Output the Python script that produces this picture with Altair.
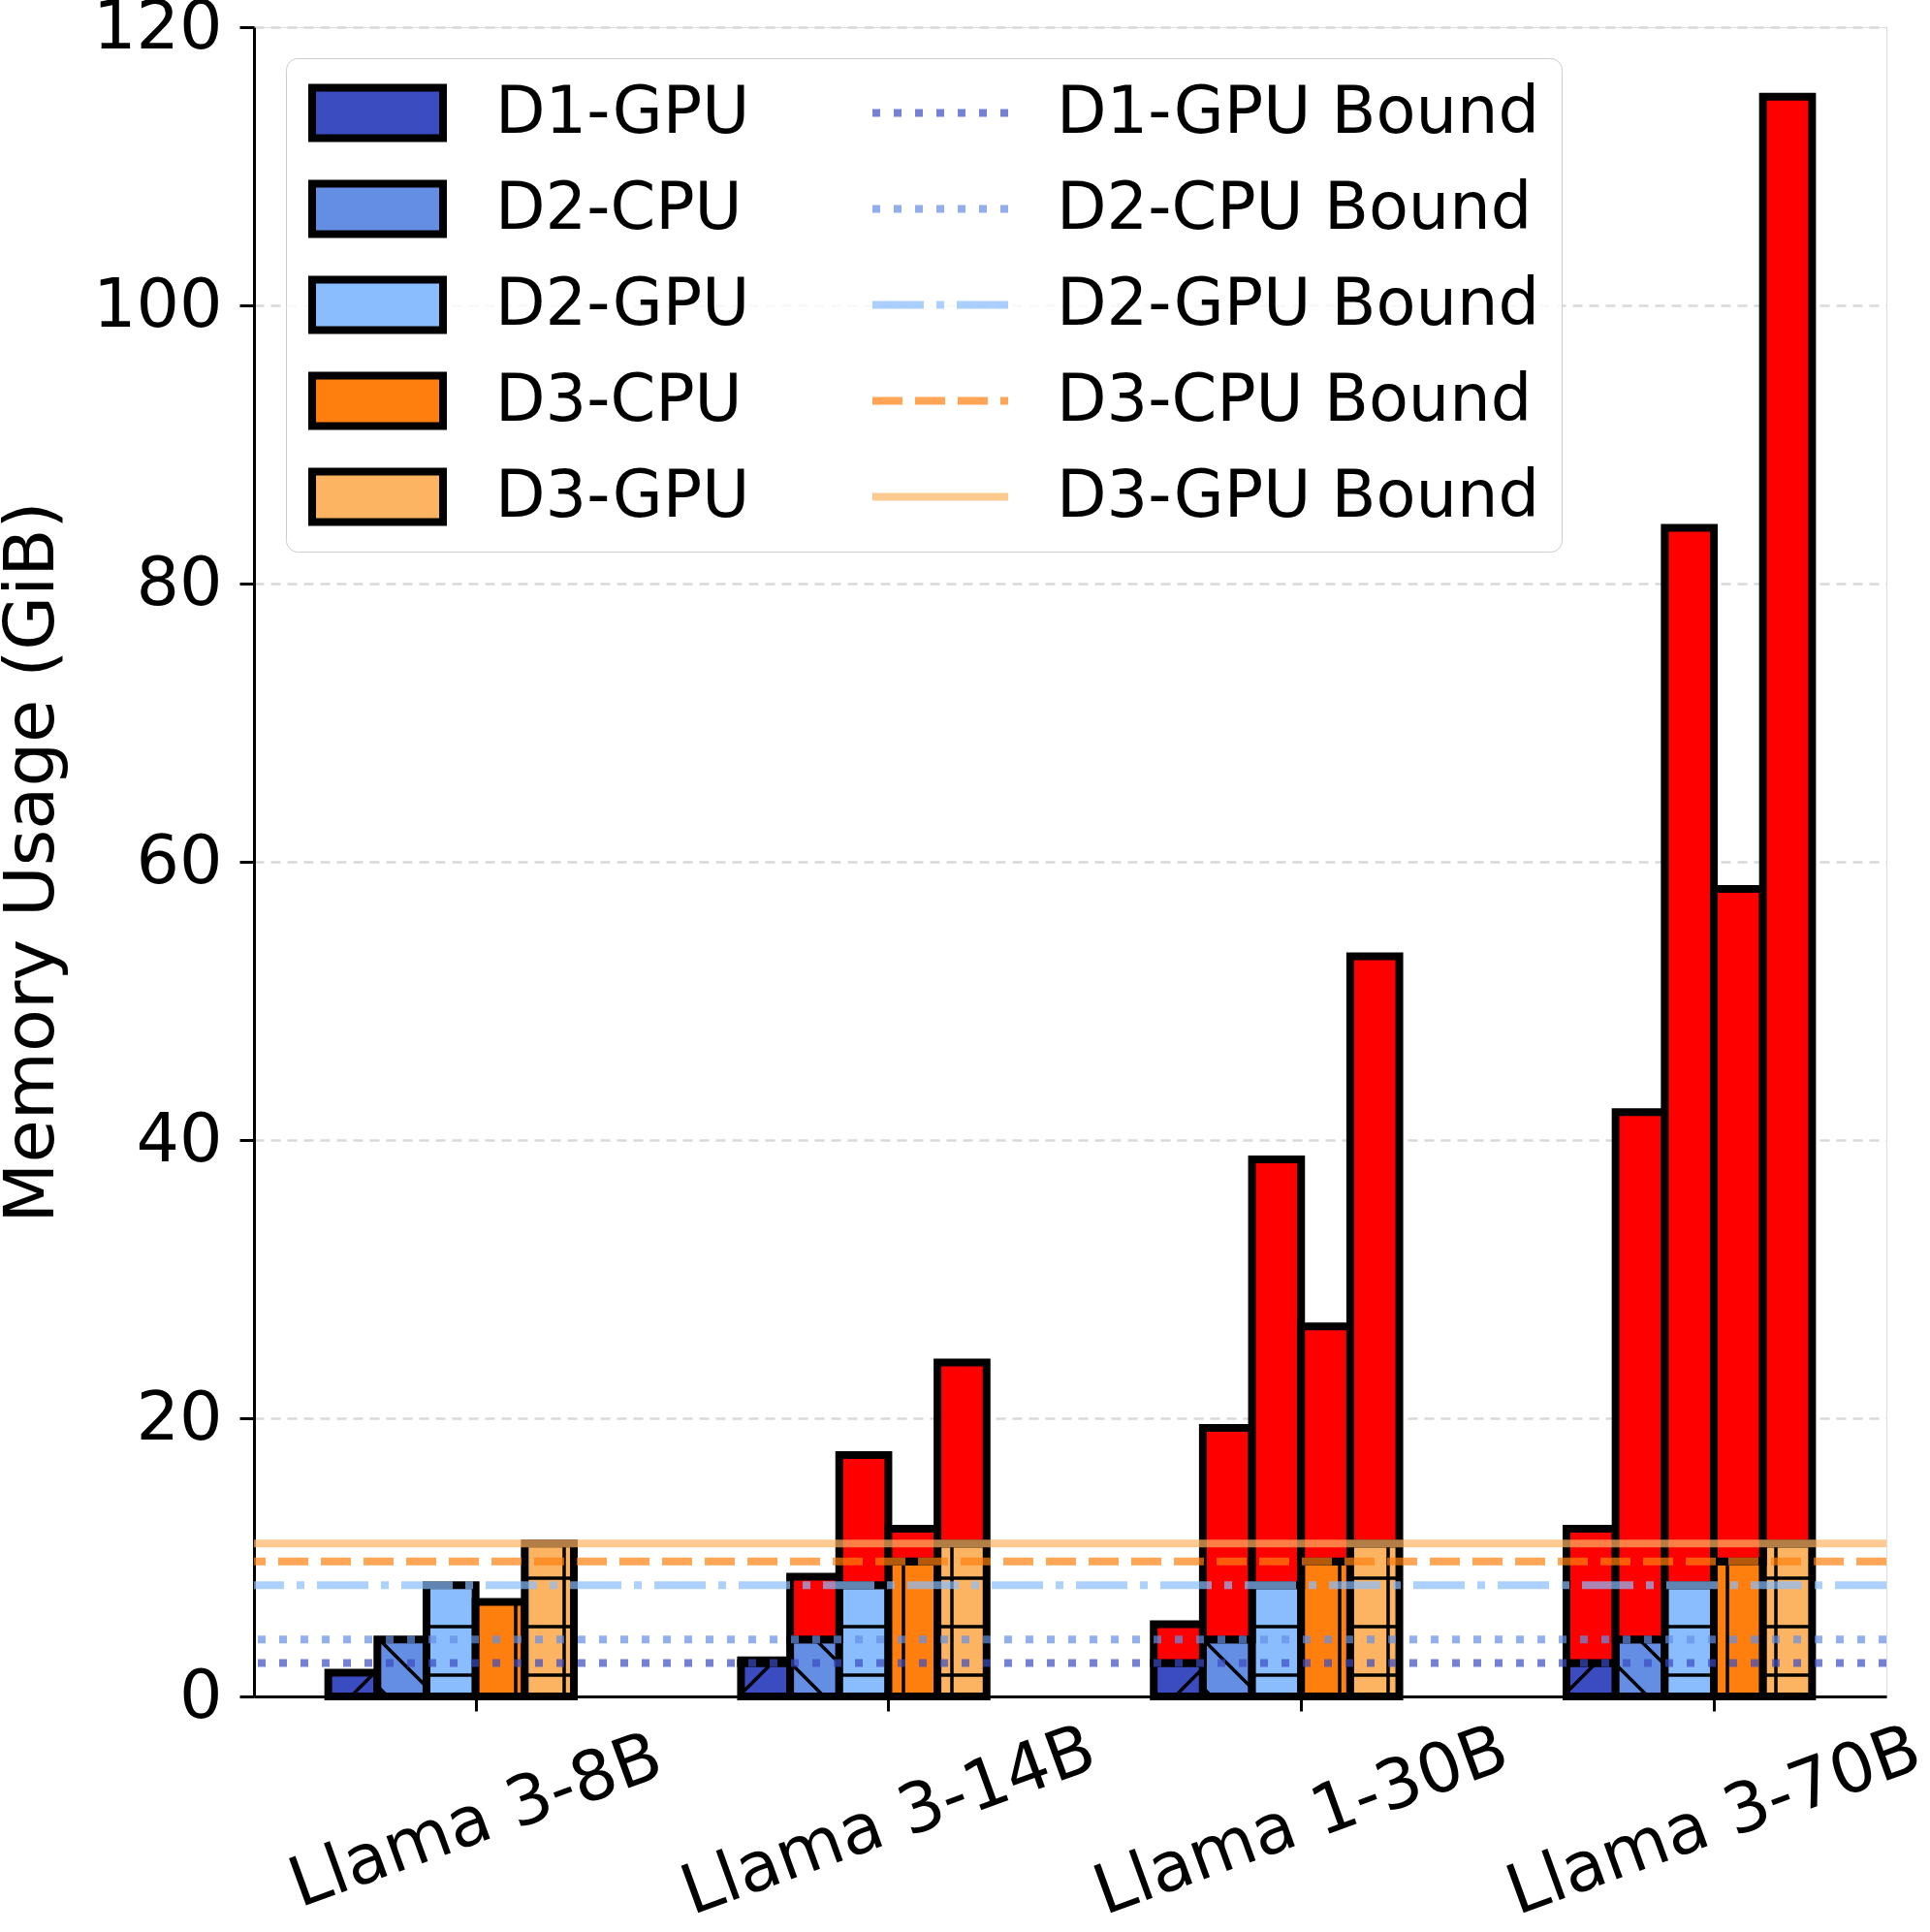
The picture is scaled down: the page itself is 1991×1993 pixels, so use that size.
import math
import altair as alt
import pandas as pd

# ---------------- data ----------------
models = ["Llama 3-8B", "Llama 3-14B", "Llama 1-30B", "Llama 3-70B"]
devices = ["D1-GPU", "D2-CPU", "D2-GPU", "D3-CPU", "D3-GPU"]
device_colors = ["#3b4cc0", "#648ee4", "#89bdfd", "#ff7f0e", "#fdb462"]
device_hatch = ["/", "\\", "-", "|", "+"]
bound_names = ["D1-GPU Bound", "D2-CPU Bound", "D2-GPU Bound", "D3-CPU Bound", "D3-GPU Bound"]
bound_values = [2.4, 4.1, 8.0, 9.7, 11.0]
bound_dashes = [[8, 14], [8, 14], [53, 13, 8, 13], [31, 13], [1, 0]]

usage_d1_gpu = [1.7, 2.6, 5.2, 12.05]
usage_d2_cpu = [4.1, 8.6, 19.3, 42.0]
usage_d2_gpu = [8.0, 17.35, 38.6, 84.0]
usage_d3_cpu = [6.8, 12.05, 26.6, 58.05]
usage_d3_gpu = [11.0, 24.0, 53.2, 115.0]

y_ticks = [0, 20, 40, 60, 80, 100, 120]
over_color = "#ff0000"

usage = [usage_d1_gpu, usage_d2_cpu, usage_d2_gpu, usage_d3_cpu, usage_d3_gpu]

# ---------------- layout constants ----------------
FONT = "DejaVu Sans"
BAR_W = 0.119
X_DOMAIN = [-0.537, 3.418]
Y_DOMAIN = [0, 120]
PLOT_W, PLOT_H = 1684, 1722
PX_X = PLOT_W / (X_DOMAIN[1] - X_DOMAIN[0])
PX_Y = PLOT_H / (Y_DOMAIN[1] - Y_DOMAIN[0])
HATCH = 50.0          # hatch spacing in pixels
HATCH_H0 = 22.0       # phase of horizontal hatch lines (px above the axis)
HATCH_V0 = 20.0       # phase of vertical hatch lines (px from plot left)
HATCH_F0 = 0.0        # phase of "/" lines
HATCH_B0 = 38.0       # phase of "\" lines

rows = []
for di, dev in enumerate(devices):
    for mi, m in enumerate(models):
        v = usage[di][mi]
        b = bound_values[di]
        rows.append({"model": m, "mi": mi, "device": dev, "di": di,
                     "value": v, "bound": b,
                     "x0": mi + (di - 3) * BAR_W, "x1": mi + (di - 2) * BAR_W,
                     "low": min(v, b), "zero": 0.0})
df = pd.DataFrame(rows)
bdf = pd.DataFrame({"bound_name": bound_names, "bound": bound_values})


def to_u(x):
    return (x - X_DOMAIN[0]) * PX_X


def to_x(u):
    return u / PX_X + X_DOMAIN[0]


# hatch segments, derived from the bars above
hatch_rows = []
for r in rows:
    h = device_hatch[r["di"]]
    u0, u1 = to_u(r["x0"]), to_u(r["x1"])
    vtop = r["low"] * PX_Y
    if h in ("-", "+"):
        v = HATCH_H0
        while v < vtop - 2:
            hatch_rows.append({"hx": r["x0"], "hx2": r["x1"], "hy": v / PX_Y, "hy2": v / PX_Y})
            v += HATCH
    if h in ("|", "+"):
        k = math.ceil((u0 - HATCH_V0) / HATCH)
        u = HATCH_V0 + k * HATCH
        while u < u1:
            if u > u0:
                hatch_rows.append({"hx": to_x(u), "hx2": to_x(u), "hy": 0.0, "hy2": r["low"]})
            u += HATCH
    if h == "/":
        # v = u + c
        kmin = math.floor((0 - u1 - HATCH_F0) / HATCH)
        kmax = math.ceil((vtop - u0 - HATCH_F0) / HATCH)
        for k in range(kmin, kmax + 1):
            c = HATCH_F0 + k * HATCH
            ua, ub = max(u0, -c), min(u1, vtop - c)
            if ub - ua > 1:
                hatch_rows.append({"hx": to_x(ua), "hx2": to_x(ub),
                                   "hy": (ua + c) / PX_Y, "hy2": (ub + c) / PX_Y})
    if h == "\\":
        # v = -u + c
        kmin = math.floor((u0 - HATCH_B0) / HATCH)
        kmax = math.ceil((u1 + vtop - HATCH_B0) / HATCH)
        for k in range(kmin, kmax + 1):
            c = HATCH_B0 + k * HATCH
            ua, ub = max(u0, c - vtop), min(u1, c)
            if ub - ua > 1:
                hatch_rows.append({"hx": to_x(ua), "hx2": to_x(ub),
                                   "hy": (c - ua) / PX_Y, "hy2": (c - ub) / PX_Y})
hdf = pd.DataFrame(hatch_rows)

# legend table: device entries (left column) then bound entries (right column)
legend_domain = devices + bound_names
legend_fill = device_colors + ["transparent"] * len(bound_names)
legend_stroke = ["black"] * len(devices) + ["transparent"] * len(bound_names)

# ---------------- styling ----------------
xscale = alt.Scale(domain=X_DOMAIN, nice=False, zero=False)
yscale = alt.Scale(domain=Y_DOMAIN, nice=False, zero=True)

label_list = "[" + ",".join("'" + m + "'" for m in models) + "]"
x_axis = alt.Axis(values=[0, 1, 2, 3], labelExpr=label_list + "[datum.value]",
                  labelAngle=-20, labelAlign="center", labelBaseline="middle",
                  labelPadding=114, labelFontSize=71, labelFont=FONT, labelColor="black",
                  labelOverlap=False, labelFlush=False, labelLimit=2000,
                  tickSize=15, tickWidth=3, tickColor="black",
                  domainColor="black", domainWidth=3, grid=False, title=None)
y_axis = alt.Axis(values=y_ticks, title="Memory Usage (GiB)", titleFont=FONT,
                  titleFontSize=72, titleFontWeight="normal", titleColor="black",
                  titlePadding=26, labelFont=FONT, labelFontSize=70, labelColor="black",
                  labelPadding=18, labelFlush=False, labelOverlap=False,
                  tickSize=15, tickWidth=3, tickColor="black",
                  domainColor="black", domainWidth=3,
                  grid=True, gridDash=[10, 7], gridColor="#d9d9d9", gridWidth=2.5)

rect_path = "M-1,-0.385H1V0.385H-1Z"
legend_main = alt.Legend(
    title=None, orient="none", legendX=33, legendY=32, columns=2, columnPadding=123,
    symbolType=rect_path, symbolSize=135 ** 2, symbolStrokeWidth=8, symbolOpacity=1,
    labelFont=FONT, labelFontSize=67, labelColor="black", labelOffset=50,
    labelLimit=3000, rowPadding=31, clipHeight=67, padding=23,
    fillColor="rgba(255,255,255,0.8)", strokeColor="#cccccc",
    cornerRadius=12, zindex=1)
legend_lines = alt.Legend(
    title=None, orient="none", legendX=634, legendY=55,
    symbolType="stroke", symbolSize=140 ** 2, symbolStrokeWidth=8, symbolOpacity=0.7,
    labelFont=FONT, labelFontSize=67, labelColor="black", labelOffset=49, labelOpacity=0,
    labelLimit=3000, rowPadding=31, clipHeight=67, padding=0, zindex=2)

base = alt.Chart(df)

colored = base.mark_bar(strokeWidth=8).encode(
    x=alt.X("x0:Q", scale=xscale, axis=x_axis),
    x2="x1:Q",
    y=alt.Y("low:Q", scale=yscale, axis=y_axis),
    y2="zero:Q",
    fill=alt.Fill("device:N", scale=alt.Scale(domain=legend_domain, range=legend_fill),
                  legend=legend_main),
    stroke=alt.Stroke("device:N", scale=alt.Scale(domain=legend_domain, range=legend_stroke),
                      legend=legend_main),
)

hatch = alt.Chart(hdf).mark_rule(color="black", strokeWidth=3.5).encode(
    x=alt.X("hx:Q", scale=xscale, axis=x_axis),
    x2="hx2:Q",
    y=alt.Y("hy:Q", scale=yscale, axis=y_axis),
    y2="hy2:Q",
)

over = base.transform_filter("datum.value > datum.bound").mark_bar(
    stroke="black", strokeWidth=8, fill=over_color).encode(
    x=alt.X("x0:Q", scale=xscale, axis=x_axis),
    x2="x1:Q",
    y=alt.Y("value:Q", scale=yscale, axis=y_axis),
    y2="bound:Q",
)

rules = alt.Chart(bdf).mark_rule(strokeWidth=8, opacity=0.7).encode(
    y=alt.Y("bound:Q", scale=yscale, axis=y_axis),
    color=alt.Color("bound_name:N", scale=alt.Scale(domain=bound_names, range=device_colors),
                    legend=legend_lines),
    strokeDash=alt.StrokeDash("bound_name:N", scale=alt.Scale(domain=bound_names, range=bound_dashes),
                              legend=legend_lines),
)

chart = alt.layer(colored, hatch, over, rules).properties(
    width=PLOT_W, height=PLOT_H,
    autosize=alt.AutoSizeParams(type="none"),
    padding={"left": 262, "top": 28, "right": 45, "bottom": 243},
).configure_view(stroke="black", strokeWidth=3).configure_legend(
    strokeWidth=3).configure(background="white")

chart.save("out.html", embed_options={"renderer": "svg", "actions": False})
